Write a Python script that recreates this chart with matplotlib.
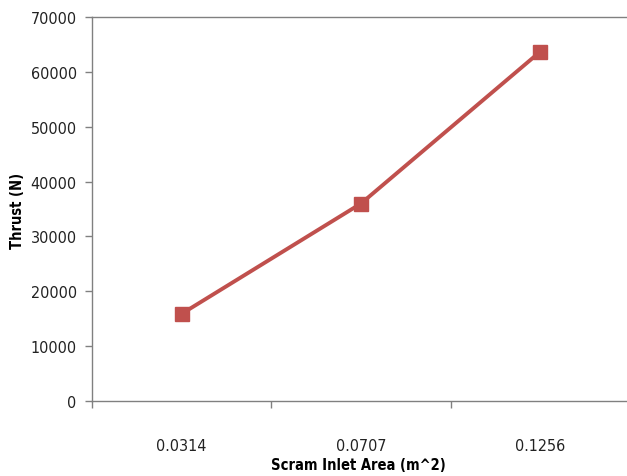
import matplotlib.pyplot as plt
from matplotlib.ticker import FixedLocator, NullFormatter

plt.rcParams['font.family'] = ['DejaVu Sans']
plt.rcParams['font.stretch'] = 'condensed'

areas = ['0.0314', '0.0707', '0.1256']
thrust = [15900, 36000, 63700]

fig = plt.figure(figsize=(6.27, 4.77), dpi=100)
ax = fig.add_axes([92 / 627, 75 / 477, 538 / 627, 384 / 477])

x = list(range(len(areas)))
ax.plot(x, thrust, color='#C0504D', linewidth=2.8, marker='s', markersize=10,
        markeredgecolor='#C0504D', markerfacecolor='#C0504D')

ax.set_xlim(-0.5, len(areas) - 0.5)
ax.set_ylim(0, 70000)
ax.set_yticks(range(0, 70001, 10000))

# category boundaries get the tick marks, labels sit in the middle
ax.xaxis.set_major_locator(FixedLocator([i + 0.5 for i in range(-1, len(areas))]))
ax.xaxis.set_major_formatter(NullFormatter())
ax.xaxis.set_minor_locator(FixedLocator(x))
ax.set_xticklabels(areas, minor=True)
ax.tick_params(axis='x', which='minor', length=0, pad=27, labelsize=11.5, labelcolor='#222222')
ax.tick_params(axis='x', which='major', length=5, width=1, color='#808080')
ax.tick_params(axis='y', length=5, width=1, color='#808080', labelsize=11.5,
               labelcolor='#222222', pad=6)

for side in ['left', 'bottom', 'top']:
    ax.spines[side].set_color('#808080')
    ax.spines[side].set_linewidth(1)
ax.spines['right'].set_visible(False)

fig.text(358 / 627, 1 - 466 / 477, 'Scram Inlet Area (m^2)', fontsize=10.5,
         fontweight='bold', ha='center', va='center')
fig.text(18 / 627, 1 - 211 / 477, 'Thrust (N)', fontsize=10.5, fontweight='bold',
         rotation=90, ha='center', va='center')

plt.savefig('out.png', dpi=100)
